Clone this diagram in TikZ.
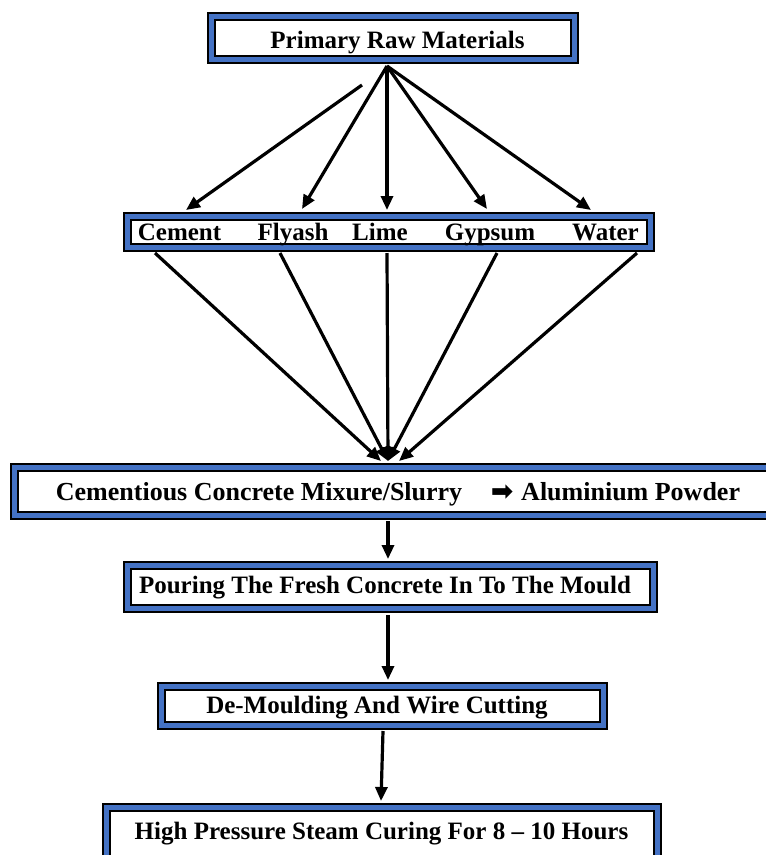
\documentclass[tikz,border=0pt]{standalone}
\usepackage{fontspec}
\setmainfont{Liberation Serif}
\newfontfamily\djv{DejaVu Sans}
\usetikzlibrary{arrows.meta}
\definecolor{boxblue}{HTML}{4472C4}
\tikzset{
  x=1pt, y=-1pt,
  frame/.style={draw=black, line width=2.2pt, double=boxblue, double distance=5pt, fill=white, inner sep=0pt},
  lbl/.style={font=\fontsize{25}{28}\selectfont\bfseries, inner sep=0pt, anchor=base},
  arr/.style={line width=3.2pt, -{Triangle[length=14pt,width=12pt]}}
}
\begin{document}
\begin{tikzpicture}
\useasboundingbox (0,0) rectangle (766,855);
% boxes
\node[frame, minimum width=362.6pt, minimum height=42.6pt] (prim) at (393,38) {};
\node[lbl] (primt) at (397.5,48) {Primary Raw Materials};
\node[frame, minimum width=522.6pt, minimum height=30.6pt] (mat) at (389,232) {};
\node[lbl] (cem) at (179.5,240) {Cement};
\node[lbl] (fly) at (293,240) {Flyash};
\node[lbl] (lim) at (380,240) {Lime};
\node[lbl] (gyp) at (490,240) {Gypsum};
\node[lbl] (wat) at (605.5,240) {Water};
\node[frame, minimum width=756.6pt, minimum height=47.6pt] (mix) at (393,491.5) {};
\node[lbl, font=\fontsize{26}{28}\selectfont\bfseries] (mixt) at (398,500) {Cementious Concrete Mixure/Slurry\hspace{1.1em}{\djv\fontsize{27}{27}\selectfont ➡}\hspace{0.3em}Aluminium Powder};
\node[frame, minimum width=525.6pt, minimum height=42.6pt] (pour) at (390.5,587) {};
\node[lbl] (pourt) at (385,593) {Pouring The Fresh Concrete In To The Mould};
\node[frame, minimum width=441.6pt, minimum height=38.6pt] (demo) at (382.5,706) {};
\node[lbl] (demot) at (377,713) {De-Moulding And Wire Cutting};
\node[frame, minimum width=550.6pt, minimum height=57.6pt] (hps) at (382,836.5) {};
\node[lbl] (hpst) at (381.5,839) {High Pressure Steam Curing For 8 -- 10 Hours};
% arrow end points
\coordinate (s0) at (362,85);
\coordinate (top) at (387,66);
\coordinate (e1) at (186,210);
\coordinate (e2) at (302,209);
\coordinate (e3) at (387,210);
\coordinate (e4) at (487,209);
\coordinate (e5) at (591,210);
\coordinate (b1) at (155,253);
\coordinate (b2) at (280,253);
\coordinate (b3) at (387,253);
\coordinate (b4) at (497,253);
\coordinate (b5) at (637,253);
\coordinate (m) at (388,461);
\coordinate (m1) at (381,461);
\coordinate (m5) at (399,461);
\draw[arr] (s0) -- (e1);
\draw[arr] (top) -- (e2);
\draw[arr] (top) -- (e3);
\draw[arr] (top) -- (e4);
\draw[arr] (top) -- (e5);
\draw[arr] (b1) -- (m1);
\draw[arr] (b2) -- (m);
\draw[arr] (b3) -- (m);
\draw[arr] (b4) -- (m);
\draw[arr] (b5) -- (m5);
\coordinate (a1) at (388,521);
\coordinate (a2) at (388,559);
\coordinate (a3) at (388,615);
\coordinate (a4) at (388,680);
\coordinate (a5) at (383,731);
\coordinate (a6) at (381,801);
\draw[arr] (a1) -- (a2);
\draw[arr] (a3) -- (a4);
\draw[arr] (a5) -- (a6);
\end{tikzpicture}
\end{document}
